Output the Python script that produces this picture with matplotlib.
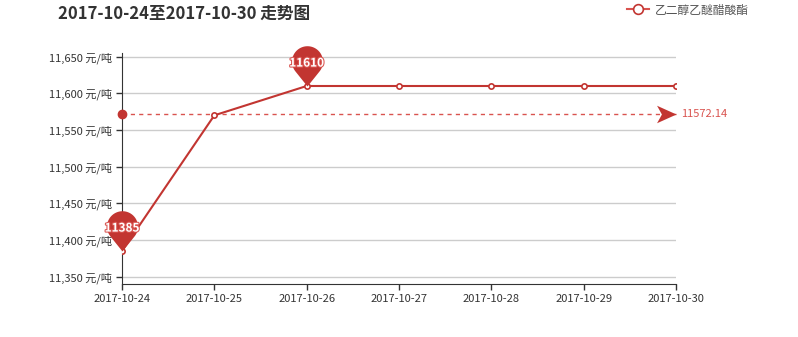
import numpy as np
import matplotlib
matplotlib.use('Agg')
import matplotlib.pyplot as plt
import matplotlib.patheffects as pe
from matplotlib.path import Path
from matplotlib.ticker import FuncFormatter

plt.rcParams['font.family'] = ['Noto Sans CJK SC', 'DejaVu Sans']

dates = ['2017-10-24', '2017-10-25', '2017-10-26', '2017-10-27',
         '2017-10-28', '2017-10-29', '2017-10-30']
prices = [11385, 11570, 11610, 11610, 11610, 11610, 11610]
yticks = [11350, 11400, 11450, 11500, 11550, 11600, 11650]
series_name = '乙二醇乙醚醋酸酯'
title = '2017-10-24至2017-10-30 走势图'

red = '#c23531'
light_red = '#d9534f'
txt = '#333333'


def pin_path(d=1.6):
    # balloon marker, tip at origin
    beta = np.arccos(1.0 / d)
    start = -np.pi / 2 + beta
    end = 3 * np.pi / 2 - beta
    t = np.linspace(start, end, 60)
    verts = [(0, 0)] + [(np.cos(a), d + np.sin(a)) for a in t] + [(0, 0)]
    return Path(verts, closed=True)


def arrow_path():
    # echarts-like arrow head pointing right, tip at origin
    verts = [(0, 0), (-1, 0.45), (-0.75, 0), (-1, -0.45), (0, 0)]
    return Path(verts, closed=True)


fig = plt.figure(figsize=(7.98, 3.37), dpi=100)
ax = fig.add_axes([122 / 798, 53 / 337, (676 - 122) / 798, (284 - 53) / 337])

x = np.arange(len(dates))
ax.plot(x, prices, color=red, lw=1.5, marker='o', ms=3.8,
        mfc='white', mec=red, mew=1.2, zorder=4, label=series_name)

# mean line
mean = np.mean(prices)
ax.plot([0, len(dates) - 1], [mean, mean], color=light_red, lw=1,
        ls=(0, (3, 3)), zorder=3, clip_on=False)
ax.plot([0], [mean], 'o', color=red, ms=6, zorder=5, clip_on=False)
ax.plot([len(dates) - 1], [mean], marker=arrow_path(), color=red, ms=28,
        mec='none', zorder=5, clip_on=False)
ax.annotate('%.2f' % mean, (len(dates) - 1, mean), xytext=(3.5, 0),
            textcoords='offset points', va='center', ha='left',
            color=light_red, fontsize=8)

# max / min pins
pin = pin_path()
for idx in [int(np.argmax(prices)), int(np.argmin(prices))]:
    ax.plot([idx], [prices[idx]], marker=pin, ms=58, color=red,
            mec='none', zorder=6, clip_on=False)
    ax.annotate(str(prices[idx]), (idx, prices[idx]), xytext=(0, 16.5),
                textcoords='offset points', ha='center', va='center',
                color='white', fontsize=8.5, fontweight='bold', zorder=7,
                path_effects=[pe.withStroke(linewidth=1.5, foreground=light_red)])

ax.set_xlim(0, len(dates) - 1)
ax.set_ylim(11340, 11655)
ax.set_xticks(x)
ax.set_xticklabels(dates)
ax.set_yticks(yticks)
ax.yaxis.set_major_formatter(FuncFormatter(lambda v, p: '{:,.0f} 元/吨'.format(v)))
ax.tick_params(axis='both', colors=txt, labelsize=8, length=4, width=1)
ax.grid(axis='y', color='#cccccc', lw=1)
ax.set_axisbelow(True)
for s in ['top', 'right']:
    ax.spines[s].set_visible(False)
for s in ['left', 'bottom']:
    ax.spines[s].set_color(txt)

fig.text(58 / 798, 1 - 14 / 337, title, fontsize=12, fontweight='bold',
         color=txt, va='center', ha='left')

leg = fig.legend(loc='center left', bbox_to_anchor=(622 / 798, 1 - 10 / 337),
                 frameon=False, fontsize=8.5, handlelength=1.9,
                 handletextpad=0.5, borderaxespad=0)
for h in leg.legend_handles:
    h.set_markersize(7)
    h.set_markerfacecolor('white')
    h.set_color(light_red)
for t in leg.get_texts():
    t.set_color('#555555')

fig.savefig('out.png', dpi=100)
